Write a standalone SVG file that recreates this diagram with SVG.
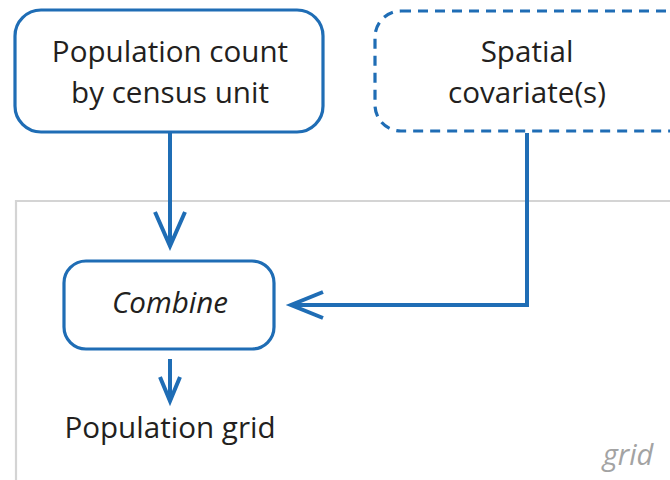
<svg xmlns="http://www.w3.org/2000/svg" width="670" height="480" viewBox="0 0 670 480">
<style>
.box{fill:#fff;stroke:#1f6db5;stroke-width:3.2}
.dash{stroke-dasharray:10 7}
.t{font-family:"Open Sans","Noto Sans",sans-serif;font-size:29.6px;fill:#231f20;text-anchor:middle}
.i{font-style:italic}
.con{fill:none;stroke:#1f6db5;stroke-width:4;stroke-linejoin:miter}
.head{fill:none;stroke:#1f6db5;stroke-width:4;stroke-linecap:butt;stroke-linejoin:miter}
</style>
<rect width="670" height="480" fill="#fff"/>
<g id="grid-frame">
<path d="M16 482 V201 H672" fill="none" stroke="#d4d4d4" stroke-width="2.2"/>
<text x="628" y="465" class="t i" style="fill:#a3a3a3;font-size:29px">grid</text>
</g>
<g id="connectors">
<path class="con" d="M170 133 V246"/>
<polyline class="head" points="155,212 170,246 185,212"/>
<path class="con" d="M527 133 V305 H291"/>
<polyline class="head" points="323,292 291,305 323,318"/>
<path class="con" d="M170 359 V400"/>
<polyline class="head" points="160,377 170,401 180,377"/>
</g>
<g id="node-population-count">
<rect class="box" x="15" y="10" width="308" height="122" rx="26"/>
<text x="170" y="62" class="t">Population count</text>
<text x="170" y="103" class="t">by census unit</text>
</g>
<g id="node-spatial-covariates">
<rect class="box dash" x="375" y="11" width="320" height="120" rx="26"/>
<text x="527" y="62" class="t">Spatial</text>
<text x="527" y="103" class="t">covariate(s)</text>
</g>
<g id="node-combine">
<rect class="box" x="64" y="261" width="210" height="88" rx="22"/>
<text x="170" y="313" class="t i">Combine</text>
</g>
<g id="node-population-grid">
<text x="170" y="438" class="t">Population grid</text>
</g>
</svg>
